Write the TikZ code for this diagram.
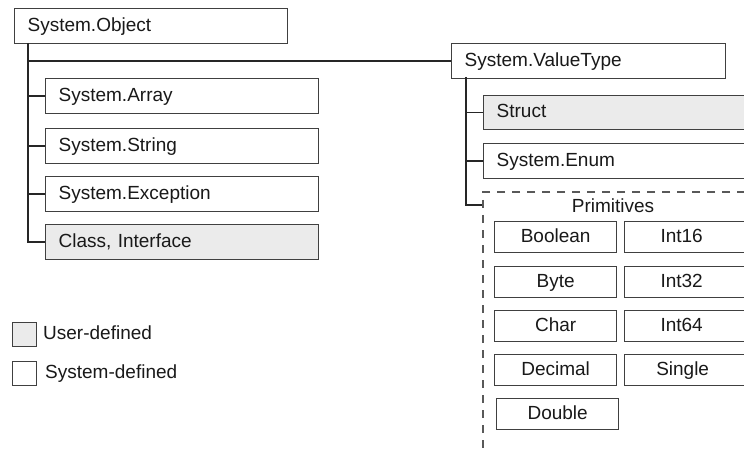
\documentclass[tikz,border=0pt]{standalone}
\usepackage{fontspec}
\setmainfont{Liberation Sans}
\begin{document}
\begin{tikzpicture}[x=1pt,y=-1pt,
  every node/.style={font=\fontsize{19}{22}\selectfont, text=black!90, text height=14pt, text depth=4pt},
  typebox/.style={draw=black!75, line width=1.3pt, fill=white, inner xsep=13pt, inner ysep=0pt, anchor=north west, align=left, minimum height=#1},
  typebox/.default=35pt,
  userbox/.style={typebox=#1, fill=black!8},
  userbox/.default=35pt,
  primbox/.style={draw=black!75, line width=1.3pt, fill=white, inner sep=0pt, anchor=north west, minimum width=122pt, minimum height=31pt},
  primtext/.style={inner sep=0pt},
  legbox/.style={draw=black!75, line width=1.3pt, inner sep=0pt, minimum size=24pt, anchor=north west, text height=, text depth=},
  link/.style={draw=black!85, line width=1.5pt},
  groupline/.style={draw=black!65, line width=1.5pt, dash pattern=on 8pt off 7pt}
]
\useasboundingbox (0,0) rectangle (744,449);
\clip (0,0) rectangle (744,449);

% left hierarchy
\node[typebox, text width=247pt] (obj) at (14,8) {System.Object};
\node[typebox, text width=247pt] (arr) at (45,78) {System.Array};
\node[typebox, text width=247pt] (str) at (45,128) {System.String};
\node[typebox, text width=247pt] (exc) at (45,176) {System.Exception};
\node[userbox, text width=247pt] (cls) at (45,224) {Class, Interface};

\coordinate (trunk) at (28,43);
\draw[link] (trunk) |- (cls.west);
\draw[link] (arr.west) -- (arr.west -| trunk);
\draw[link] (str.west) -- (str.west -| trunk);
\draw[link] (exc.west) -- (exc.west -| trunk);

% value types
\node[typebox, text width=248pt] (vt) at (451,43) {System.ValueType};
\draw[link] (vt.west) -- (vt.west -| trunk);

\node[userbox=34pt, text width=300pt] (struct) at (483,95) {Struct};
\node[typebox, text width=300pt] (enum) at (483,143) {System.Enum};

\coordinate (vstem) at (466,77);
\coordinate (gcorner) at (483,192);
\coordinate (gelbow) at (483,205);
\draw[link] (vstem) |- (gelbow);
\draw[link] (struct.west) -- (struct.west -| vstem);
\draw[link] (enum.west) -- (enum.west -| vstem);

% primitives group
\draw[groupline] (760,192) -- (gcorner) -- (483,460);
\node[primtext] (prim) at (613,208) {Primitives};

\node[primbox] (bool) at (494,221) {Boolean};
\node[primbox, minimum width=140pt] (i16) at (624,221) {};
\node[primtext] (i16t) at ([xshift=-13pt]i16.center) {Int16};
\node[primbox] (byte) at (494,266) {Byte};
\node[primbox, minimum width=140pt] (i32) at (624,266) {};
\node[primtext] (i32t) at ([xshift=-13pt]i32.center) {Int32};
\node[primbox] (char) at (494,310) {Char};
\node[primbox, minimum width=140pt] (i64) at (624,310) {};
\node[primtext] (i64t) at ([xshift=-13pt]i64.center) {Int64};
\node[primbox] (dec) at (494,354) {Decimal};
\node[primbox, minimum width=140pt] (sng) at (624,354) {};
\node[primtext] (sngt) at ([xshift=-12pt]sng.center) {Single};
\node[primbox] (dbl) at (496,398) {Double};

% legend
\node[legbox, fill=black!8] (lu) at (12,322) {};
\node[anchor=west, inner sep=0pt] (lut) at (43,334) {User-defined};
\node[legbox, fill=white] (ls) at (12,361) {};
\node[anchor=west, inner sep=0pt] (lst) at (45,373) {System-defined};
\end{tikzpicture}
\end{document}
